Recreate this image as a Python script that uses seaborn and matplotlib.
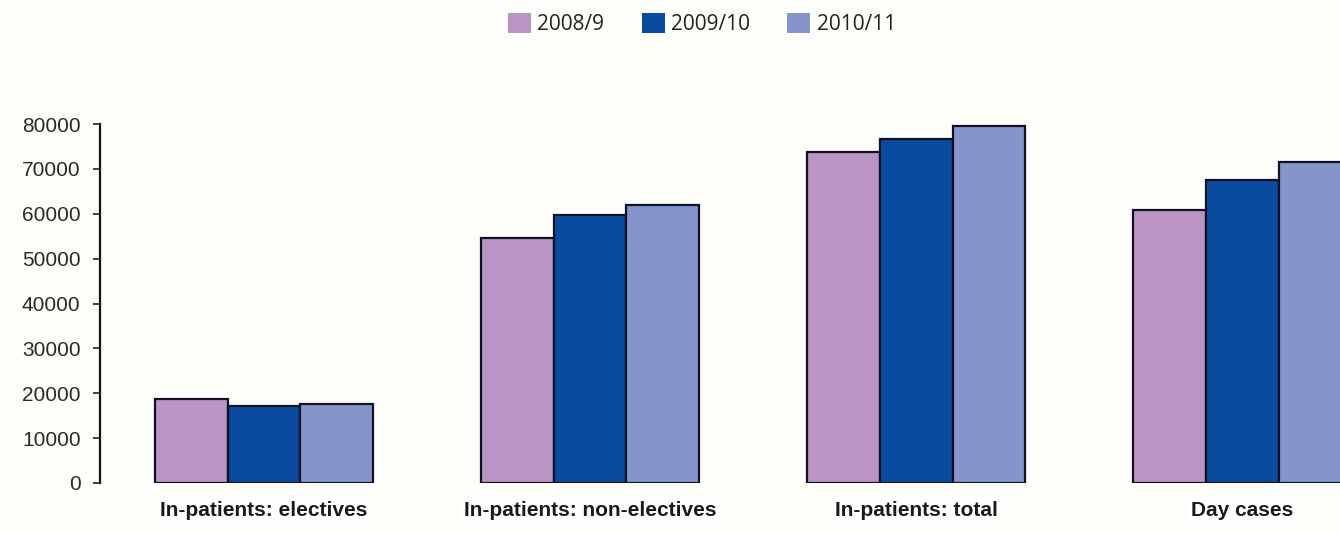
import matplotlib
matplotlib.use("Agg")
import matplotlib.pyplot as plt
import seaborn as sns
import pandas as pd

# Admissions by category and financial year
categories = ["In-patients: electives", "In-patients: non-electives",
              "In-patients: total", "Day cases"]
years = ["2008/9", "2009/10", "2010/11"]
values_2008 = [18750, 54500, 73800, 60800]
values_2009 = [17100, 59700, 76700, 67600]
values_2010 = [17600, 61900, 79600, 71500]
y_ticks = [0, 10000, 20000, 30000, 40000, 50000, 60000, 70000, 80000]

colors = ["#B994C4", "#0A4BA0", "#8595CB"]

rows = []
for year, vals in zip(years, [values_2008, values_2009, values_2010]):
    for cat, v in zip(categories, vals):
        rows.append({"category": cat, "year": year, "admissions": v})
df = pd.DataFrame(rows)

sns.set_style("white")
plt.rcParams["font.family"] = ["Liberation Sans", "DejaVu Sans"]

W, H = 1340, 533
fig = plt.figure(figsize=(W / 100, H / 100), dpi=100, facecolor="#FDFDFA")
ax = fig.add_axes([100 / W, (H - 483) / H, 1 - 100 / W, (483 - 124) / H])
ax.set_facecolor("#FDFDFA")

sns.barplot(data=df, x="category", y="admissions", hue="year",
            hue_order=years, order=categories, palette=colors,
            width=0.67, edgecolor="#111122", linewidth=1.6,
            saturation=1, ax=ax, legend=True)

ax.set_xlim(-0.503, 3.30)
ax.set_ylim(0, 80000)
ax.set_yticks(y_ticks)
ax.set_yticklabels([str(t) for t in y_ticks], fontsize=15, color="#2a2a2a")
ax.tick_params(axis="y", direction="out", length=5, width=1.2, color="#222222",
               left=True, pad=9)
ax.tick_params(axis="x", length=0, pad=13)
ax.set_xticks(range(len(categories)))
ax.set_xticklabels(categories, fontsize=15, fontweight="bold", color="#1a1a1a")
for lbl in ax.get_xticklabels():
    lbl.set_bbox(dict(facecolor="white", edgecolor="none", pad=2))
ax.set_xlabel("")
ax.set_ylabel("")

for side in ["top", "right", "bottom"]:
    ax.spines[side].set_visible(False)
ax.spines["left"].set_color("#111111")
ax.spines["left"].set_linewidth(1.6)

handles, labels = ax.get_legend_handles_labels()
ax.get_legend().remove()
for h in handles:
    h.set_edgecolor("none")
fig.legend(handles, labels, loc="center", bbox_to_anchor=(702 / W, 1 - 24 / H),
           ncol=3, frameon=False, handlelength=1.1, handleheight=1.1,
           handletextpad=0.3, columnspacing=1.8, labelcolor="#222222",
           prop={"family": ["Open Sans", "DejaVu Sans"], "size": 15})

fig.savefig("out.png", dpi=100, facecolor=fig.get_facecolor())
